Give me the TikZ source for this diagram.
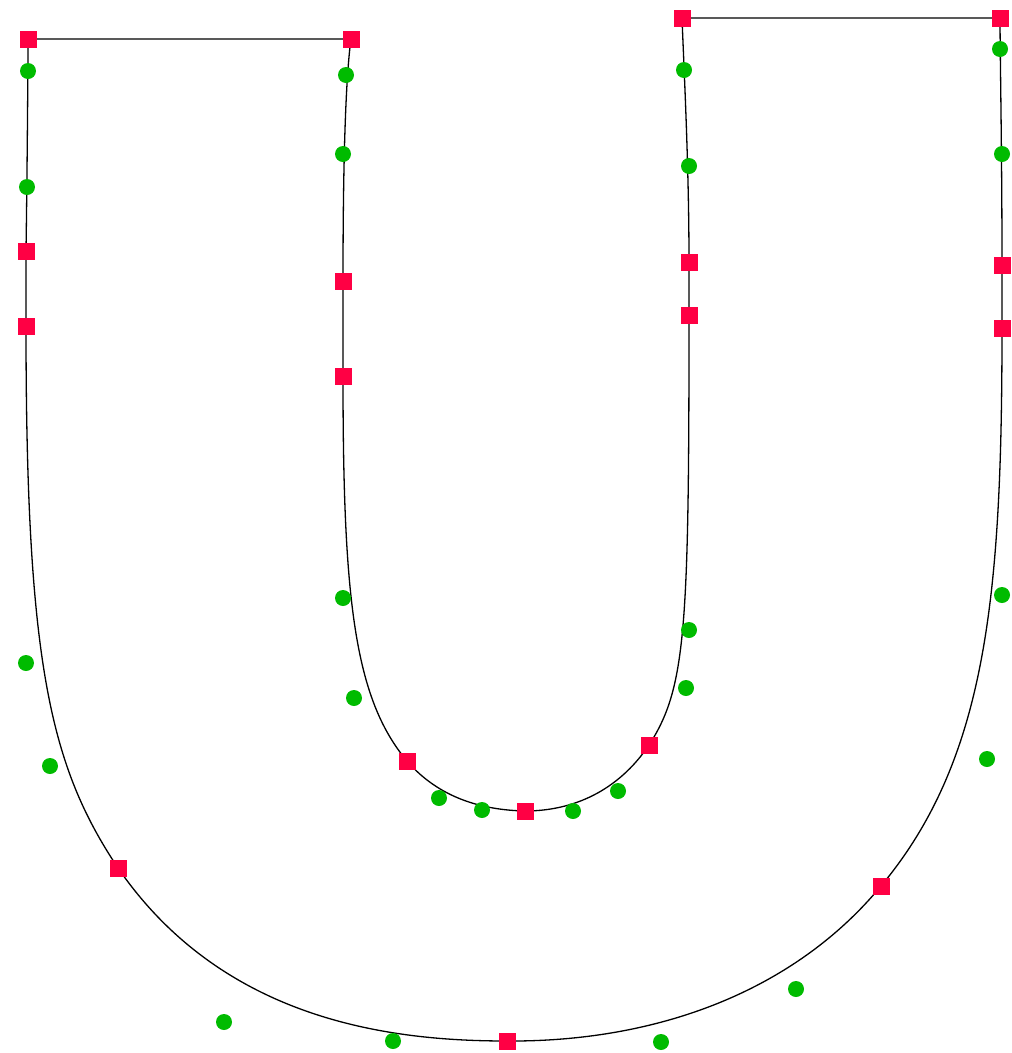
\documentclass[tikz,border=0pt]{standalone}
\usepackage{xcolor}
\usepackage{tikz}
\usetikzlibrary{calc}

\definecolor{oncurve}{HTML}{FF0044}
\definecolor{offcurve}{HTML}{00BB00}

\begin{document}
\begin{tikzpicture}[x=1pt,y=-1pt,line width=1.3pt]
 \tikzstyle{onpt}=[rectangle, fill=oncurve, inner sep=0pt, minimum size=17pt]
 \tikzstyle{offpt}=[circle, fill=offcurve, inner sep=0pt, minimum size=16pt]
 \useasboundingbox (0,0) rectangle (1012,1053);

 % points on the outline
 \coordinate (A) at (28,39);
 \coordinate (B) at (351,39);
 \coordinate (C) at (343,281);
 \coordinate (D) at (343,376);
 \coordinate (E) at (407,761);
 \coordinate (F) at (525,811);
 \coordinate (G) at (649,745);
 \coordinate (H) at (689,315);
 \coordinate (I) at (689,262);
 \coordinate (J) at (682,18);
 \coordinate (K) at (1000,18);
 \coordinate (L) at (1002,265);
 \coordinate (M) at (1002,328);
 \coordinate (N) at (881,886);
 \coordinate (O) at (507,1041);
 \coordinate (P) at (118,868);
 \coordinate (Q) at (26,326);
 \coordinate (R) at (26,251);

 % control points
 \coordinate (b1) at (346,75);   \coordinate (b2) at (343,154);
 \coordinate (d1) at (343,598);  \coordinate (d2) at (354,698);
 \coordinate (e1) at (439,798);  \coordinate (e2) at (482,810);
 \coordinate (f1) at (573,811);  \coordinate (f2) at (618,791);
 \coordinate (g1) at (686,688);  \coordinate (g2) at (689,630);
 \coordinate (i1) at (689,166);  \coordinate (i2) at (684,70);
 \coordinate (k1) at (1000,49);  \coordinate (k2) at (1002,154);
 \coordinate (m1) at (1002,595); \coordinate (m2) at (987,759);
 \coordinate (n1) at (796,989);  \coordinate (n2) at (661,1042);
 \coordinate (o1) at (393,1041); \coordinate (o2) at (224,1022);
 \coordinate (p1) at (50,766);   \coordinate (p2) at (26,663);
 \coordinate (r1) at (27,187);   \coordinate (r2) at (28,71);

 \draw (A) -- (B)
   .. controls (b1) and (b2) .. (C) -- (D)
   .. controls (d1) and (d2) .. (E)
   .. controls (e1) and (e2) .. (F)
   .. controls (f1) and (f2) .. (G)
   .. controls (g1) and (g2) .. (H) -- (I)
   .. controls (i1) and (i2) .. (J) -- (K)
   .. controls (k1) and (k2) .. (L) -- (M)
   .. controls (m1) and (m2) .. (N)
   .. controls (n1) and (n2) .. (O)
   .. controls (o1) and (o2) .. (P)
   .. controls (p1) and (p2) .. (Q) -- (R)
   .. controls (r1) and (r2) .. (A) -- cycle;

 \foreach \p in {b1,b2,d1,d2,e1,e2,f1,f2,g1,g2,i1,i2,k1,k2,m1,m2,n1,n2,o1,o2,p1,p2,r1,r2}
   \node[offpt] (c-\p) at (\p) {};
 \foreach \p in {A,B,C,D,E,F,G,H,I,J,K,L,M,N,O,P,Q,R}
   \node[onpt] (v-\p) at (\p) {};
\end{tikzpicture}
\end{document}
